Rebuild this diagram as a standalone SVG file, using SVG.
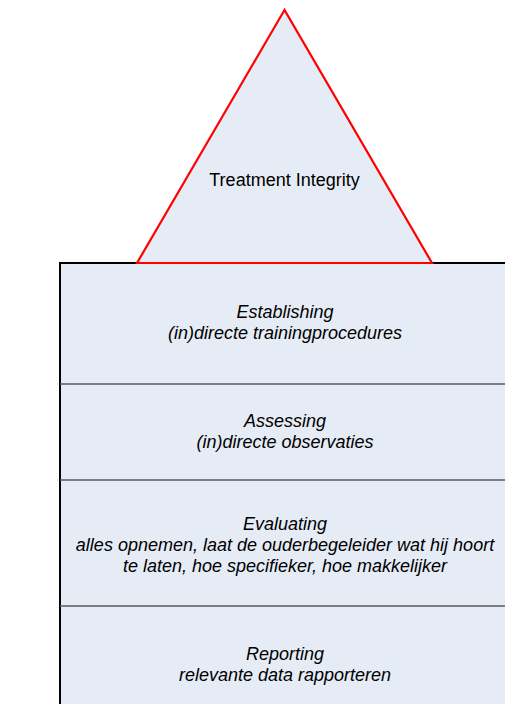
<svg xmlns="http://www.w3.org/2000/svg" width="505" height="704" viewBox="0 0 505 704">
<style>
.t{font-family:"Liberation Sans",Arial,sans-serif;font-size:18px;fill:#000;text-anchor:middle}
.i{font-style:italic}
.div{stroke:#5a5a5a;stroke-width:1.3;fill:none}
</style>
<rect x="0" y="0" width="505" height="704" fill="#fff"/>
<g id="base">
<rect x="60" y="263" width="470" height="460" fill="#E6ECF6" stroke="#000" stroke-width="2"/>
</g>
<g id="connectors">
<line class="div" x1="60" y1="384" x2="505" y2="384"/>
<line class="div" x1="60" y1="480" x2="505" y2="480"/>
<line class="div" x1="60" y1="606" x2="505" y2="606"/>
</g>
<g id="triangle">
<polygon points="284.5,10 137,263 432,263" fill="#E6ECF6" stroke="#f00" stroke-width="2.2" stroke-linejoin="miter"/>
<text class="t" x="284.5" y="186">Treatment Integrity</text>
</g>
<g id="establishing">
<text class="t i" x="285" y="318">Establishing</text>
<text class="t i" x="285" y="339">(in)directe trainingprocedures</text>
</g>
<g id="assessing">
<text class="t i" x="285" y="427">Assessing</text>
<text class="t i" x="285" y="448">(in)directe observaties</text>
</g>
<g id="evaluating">
<text class="t i" x="285" y="530">Evaluating</text>
<text class="t i" x="285" y="551">alles opnemen, laat de ouderbegeleider wat hij hoort</text>
<text class="t i" x="285" y="572">te laten, hoe specifieker, hoe makkelijker</text>
</g>
<g id="reporting">
<text class="t i" x="285" y="660">Reporting</text>
<text class="t i" x="285" y="681">relevante data rapporteren</text>
</g>
</svg>
